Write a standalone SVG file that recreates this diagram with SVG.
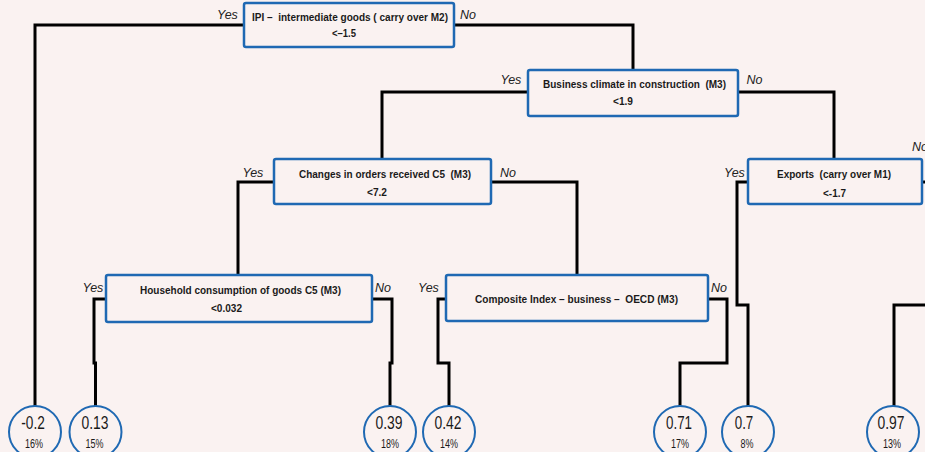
<svg xmlns="http://www.w3.org/2000/svg" width="925" height="452" viewBox="0 0 925 452">
<style>
.bg{fill:#FAF2F1}
.box{fill:#FAF2F1;stroke:#1F69B3;stroke-width:2.5}
.leaf{fill:#FAF2F1;stroke:#1F69B3;stroke-width:2}
.t{font-family:"Liberation Sans Narrow","Arial Narrow","Liberation Sans",sans-serif;font-weight:bold;font-size:11px;fill:#1a1a1a;text-anchor:middle;white-space:pre}
.yn{font-family:"Liberation Sans",Arial,sans-serif;font-style:italic;font-size:12.5px;fill:#222}
.v{font-family:"Liberation Sans Narrow","Arial Narrow","Liberation Sans",sans-serif;font-size:17.5px;fill:#1a1a1a;text-anchor:middle}
.p{font-family:"Liberation Sans Narrow","Arial Narrow","Liberation Sans",sans-serif;font-size:12.5px;fill:#1a1a1a;text-anchor:middle}
.c{fill:none;stroke:#000;stroke-width:3;stroke-linejoin:miter;stroke-linecap:butt}
</style>
<rect class="bg" x="0" y="0" width="925" height="452"/>
<g id="connectors">
<path class="c" d="M244,25 H35 V406"/>
<path class="c" d="M454,25 H633 V70"/>
<path class="c" d="M528,92 H382 V159"/>
<path class="c" d="M738,92 H834 V159"/>
<path class="c" d="M274,182 H238 V275"/>
<path class="c" d="M491,182 H577 V275"/>
<path class="c" d="M748,182 H737 V305 H748 V406"/>
<path class="c" d="M922,182 H926"/>
<path class="c" d="M926,305 H894 V406"/>
<path class="c" d="M106,299 H94 V363 H95.5 V406"/>
<path class="c" d="M372,299 H392 V363 H390 V406"/>
<path class="c" d="M446,299 H438 V363 H449 V406"/>
<path class="c" d="M708,299 H727 V363 H680 V406"/>
</g>
<g id="n1">
<rect class="box" x="244" y="3" width="210" height="44" rx="2"/>
<text class="t" x="350" y="21" textLength="196" lengthAdjust="spacingAndGlyphs">IPI –  intermediate goods ( carry over M2)</text>
<text class="t" x="344" y="37" textLength="24" lengthAdjust="spacingAndGlyphs">&lt;–1.5</text>
<text class="yn" x="217" y="19">Yes</text>
<text class="yn" x="460" y="19">No</text>
</g>
<g id="n2">
<rect class="box" x="528" y="70" width="210" height="46" rx="2"/>
<text class="t" x="634.5" y="88" textLength="183" lengthAdjust="spacingAndGlyphs">Business climate in construction  (M3)</text>
<text class="t" x="623" y="105" textLength="20" lengthAdjust="spacingAndGlyphs">&lt;1.9</text>
<text class="yn" x="500.5" y="84">Yes</text>
<text class="yn" x="746.5" y="84">No</text>
</g>
<g id="n3">
<rect class="box" x="274" y="159" width="217" height="45" rx="2"/>
<text class="t" x="385" y="178" textLength="172" lengthAdjust="spacingAndGlyphs">Changes in orders received C5  (M3)</text>
<text class="t" x="377" y="196" textLength="20" lengthAdjust="spacingAndGlyphs">&lt;7.2</text>
<text class="yn" x="242.5" y="177">Yes</text>
<text class="yn" x="500" y="177">No</text>
</g>
<g id="n4">
<rect class="box" x="748" y="159" width="174" height="45" rx="2"/>
<text class="t" x="834" y="178" textLength="114" lengthAdjust="spacingAndGlyphs">Exports  (carry over M1)</text>
<text class="t" x="834.5" y="197" textLength="23" lengthAdjust="spacingAndGlyphs">&lt;-1.7</text>
<text class="yn" x="724" y="177">Yes</text>
<text class="yn" x="912" y="151">No</text>
</g>
<g id="n5">
<rect class="box" x="106" y="275" width="266" height="47" rx="2"/>
<text class="t" x="240.5" y="294" textLength="201" lengthAdjust="spacingAndGlyphs">Household consumption of goods C5 (M3)</text>
<text class="t" x="226.5" y="312" textLength="31" lengthAdjust="spacingAndGlyphs">&lt;0.032</text>
<text class="yn" x="82.5" y="292">Yes</text>
<text class="yn" x="375" y="292">No</text>
</g>
<g id="n6">
<rect class="box" x="446" y="275" width="262" height="46" rx="2"/>
<text class="t" x="576.5" y="303" textLength="203" lengthAdjust="spacingAndGlyphs">Composite Index – business –  OECD (M3)</text>
<text class="yn" x="418" y="292">Yes</text>
<text class="yn" x="711" y="292">No</text>
</g>
<g id="leaf1">
<circle class="leaf" cx="35" cy="432" r="26"/>
<text class="v" x="33" y="429" textLength="23.5" lengthAdjust="spacingAndGlyphs">-0.2</text>
<text class="p" x="34" y="448" textLength="18" lengthAdjust="spacingAndGlyphs">16%</text>
</g>
<g id="leaf2">
<circle class="leaf" cx="95.5" cy="432" r="26"/>
<text class="v" x="95" y="429" textLength="27" lengthAdjust="spacingAndGlyphs">0.13</text>
<text class="p" x="94.5" y="448" textLength="18" lengthAdjust="spacingAndGlyphs">15%</text>
</g>
<g id="leaf3">
<circle class="leaf" cx="390" cy="432" r="26"/>
<text class="v" x="389" y="429" textLength="27" lengthAdjust="spacingAndGlyphs">0.39</text>
<text class="p" x="390" y="448" textLength="18" lengthAdjust="spacingAndGlyphs">18%</text>
</g>
<g id="leaf4">
<circle class="leaf" cx="449" cy="432" r="26"/>
<text class="v" x="448" y="429" textLength="27" lengthAdjust="spacingAndGlyphs">0.42</text>
<text class="p" x="449" y="448" textLength="18" lengthAdjust="spacingAndGlyphs">14%</text>
</g>
<g id="leaf5">
<circle class="leaf" cx="680" cy="432" r="26"/>
<text class="v" x="679" y="429" textLength="26" lengthAdjust="spacingAndGlyphs">0.71</text>
<text class="p" x="680" y="448" textLength="18" lengthAdjust="spacingAndGlyphs">17%</text>
</g>
<g id="leaf6">
<circle class="leaf" cx="748" cy="432" r="26"/>
<text class="v" x="744" y="429" textLength="18.5" lengthAdjust="spacingAndGlyphs">0.7</text>
<text class="p" x="747" y="448" textLength="13" lengthAdjust="spacingAndGlyphs">8%</text>
</g>
<g id="leaf7">
<circle class="leaf" cx="893" cy="432" r="26"/>
<text class="v" x="891" y="429" textLength="27" lengthAdjust="spacingAndGlyphs">0.97</text>
<text class="p" x="892" y="448" textLength="18" lengthAdjust="spacingAndGlyphs">13%</text>
</g>
</svg>
